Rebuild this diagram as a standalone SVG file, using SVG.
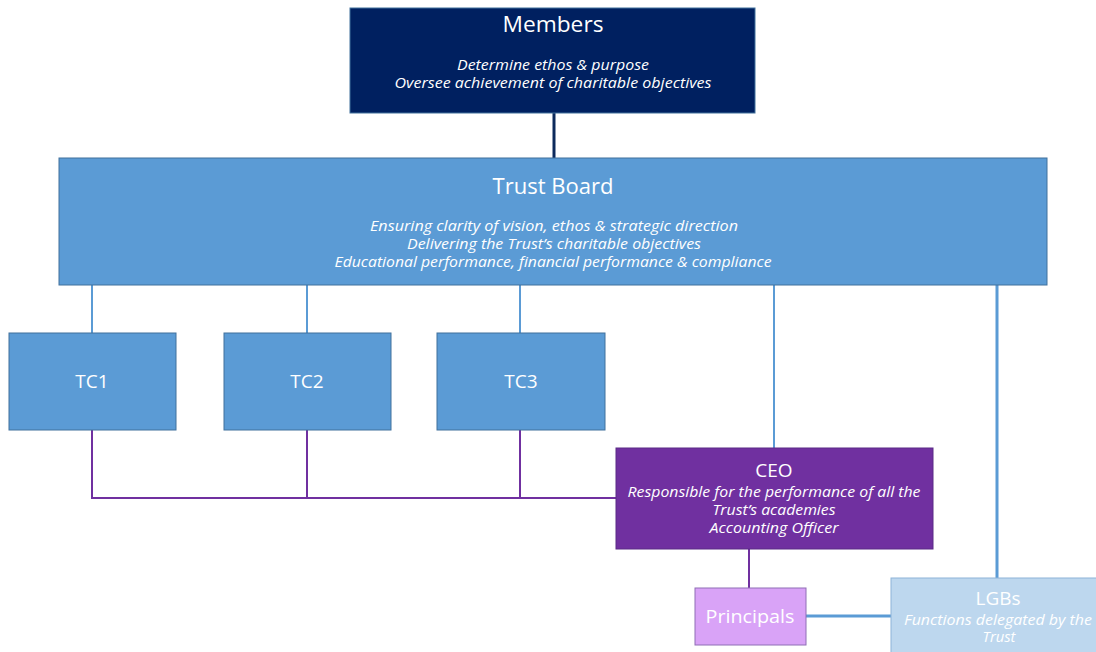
<svg xmlns="http://www.w3.org/2000/svg" width="1096" height="652" viewBox="0 0 1096 652">
<style>
text{font-family:"Open Sans","Liberation Sans",sans-serif;fill:#fff;text-anchor:middle}
.t{font-size:21px}
.i{font-size:15px;font-style:italic}
.n{font-size:14.5px;font-style:italic}
.blue{fill:#5b9bd5;stroke:#41719c;stroke-width:1}
.c{fill:none;stroke-width:2}
</style>
<rect width="1096" height="652" fill="#fff"/>
<g id="connectors">
<line x1="554" y1="113" x2="554" y2="158" stroke="#0d2a5c" stroke-width="3"/>
<g class="c" stroke="#5b9bd5">
<line x1="92" y1="285" x2="92" y2="333"/>
<line x1="307" y1="285" x2="307" y2="333"/>
<line x1="520" y1="285" x2="520" y2="333"/>
<line x1="774" y1="285" x2="774" y2="448"/>
<line x1="997" y1="285" x2="997" y2="578" stroke-width="3"/>
<line x1="806" y1="616" x2="891" y2="616" stroke-width="3"/>
</g>
<g class="c" stroke="#7030a0">
<polyline points="92,430 92,498 616,498"/>
<line x1="307" y1="430" x2="307" y2="498"/>
<line x1="520" y1="430" x2="520" y2="498"/>
<line x1="749" y1="549" x2="749" y2="588"/>
</g>
</g>
<g id="members">
<rect x="350" y="8" width="405" height="105" fill="#002060" stroke="#41719c"/>
<text class="t" x="553" y="32" textLength="101" lengthAdjust="spacingAndGlyphs">Members</text>
<text class="i" x="553" y="70" textLength="192" lengthAdjust="spacingAndGlyphs">Determine ethos &amp; purpose</text>
<text class="i" x="553" y="88" textLength="317" lengthAdjust="spacingAndGlyphs">Oversee achievement of charitable objectives</text>
</g>
<g id="trust-board">
<rect class="blue" x="59" y="158" width="988" height="127"/>
<text class="t" x="553" y="194" textLength="121" lengthAdjust="spacingAndGlyphs">Trust Board</text>
<text class="n" x="554" y="231" textLength="368" lengthAdjust="spacingAndGlyphs">Ensuring clarity of vision, ethos &amp;  strategic direction</text>
<text class="n" x="554" y="249" textLength="294" lengthAdjust="spacingAndGlyphs">Delivering the Trust’s charitable objectives</text>
<text class="n" x="553" y="267" textLength="437" lengthAdjust="spacingAndGlyphs">Educational performance, financial performance &amp; compliance</text>
</g>
<g id="tc1">
<rect class="blue" x="9" y="333" width="167" height="97"/>
<text x="92" y="388" font-size="19">TC1</text>
</g>
<g id="tc2">
<rect class="blue" x="224" y="333" width="167" height="97"/>
<text x="307" y="388" font-size="19">TC2</text>
</g>
<g id="tc3">
<rect class="blue" x="437" y="333" width="168" height="97"/>
<text x="521" y="388" font-size="19">TC3</text>
</g>
<g id="ceo">
<rect x="616" y="448" width="317" height="101" fill="#7030a0" stroke="#5a2a86"/>
<text x="774" y="477" font-size="19">CEO</text>
<text class="i" x="774" y="497" textLength="293" lengthAdjust="spacingAndGlyphs">Responsible for the performance of all the</text>
<text class="i" x="774" y="515" textLength="123" lengthAdjust="spacingAndGlyphs">Trust’s academies</text>
<text class="i" x="774" y="533" textLength="129" lengthAdjust="spacingAndGlyphs">Accounting Officer</text>
</g>
<g id="principals">
<rect x="695" y="588" width="111" height="57" fill="#d9a3f7" stroke="#8f6fb5"/>
<text x="750" y="623" font-size="19" textLength="89" lengthAdjust="spacingAndGlyphs">Principals</text>
</g>
<g id="lgbs">
<rect x="891" y="578" width="210" height="80" fill="#bdd7ee" stroke="#8eb4d8"/>
<text x="998" y="605" font-size="18" textLength="45" lengthAdjust="spacingAndGlyphs">LGBs</text>
<text class="i" x="998" y="625" font-size="14" textLength="188" lengthAdjust="spacingAndGlyphs" style="font-size:14px">Functions delegated by the</text>
<text class="i" x="999" y="642" textLength="33" lengthAdjust="spacingAndGlyphs" style="font-size:14px">Trust</text>
</g>
</svg>
